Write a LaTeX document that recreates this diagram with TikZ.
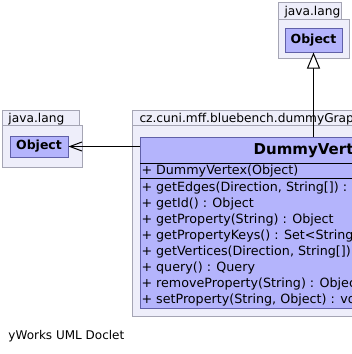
\documentclass[tikz,border=0pt]{standalone}
\usepackage{fontspec}
\setmainfont{DejaVu Sans}
\usetikzlibrary{arrows.meta}

\definecolor{pkgfill}{RGB}{238,238,250}
\definecolor{pkgline}{RGB}{165,165,180}
\definecolor{clsfill}{RGB}{180,180,252}
\definecolor{clsline}{RGB}{96,96,168}

\begin{document}
\begin{tikzpicture}[x=1pt, y=-1pt, line width=1pt,
    pkg/.style={draw=pkgline, fill=pkgfill},
    cls/.style={draw=clsline, fill=clsfill, inner sep=0pt},
    lbl/.style={anchor=west, inner sep=0pt, font=\fontsize{12.2}{15}\selectfont},
    member/.style={anchor=west, inner sep=0pt, font=\fontsize{12.7}{16}\selectfont}]

    \useasboundingbox (0,0) rectangle (352,354);
    \clip (0,0) rectangle (352,354);

    % 上方的 java.lang 包
    \filldraw[pkg] (278,2.5) rectangle (341,19.5); % 标签页
    \filldraw[pkg] (278,19.5) rectangle (349,58);  % 包体
    \node[lbl] (pkgtop) at (284,12) {java.lang};
    \node[cls, minimum width=57pt, minimum height=24pt,
          font=\bfseries\fontsize{12.5}{14}\selectfont] (objtop) at (313.5,40) {Object};

    % 左边的 java.lang 包
    \filldraw[pkg] (2,110) rectangle (79,125);
    \filldraw[pkg] (2,125) rectangle (82,167);
    \node[lbl] (pkgleft) at (8,119.5) {java.lang};
    \node[cls, minimum width=58pt, minimum height=21pt,
          font=\bfseries\fontsize{12.5}{14}\selectfont] (objleft) at (39,146.5) {Object};

    % dummyGraph 包
    \filldraw[pkg] (132,110) rectangle (360,125);
    \filldraw[pkg] (132,125) rectangle (360,316);
    \node[lbl] (pkgmain) at (139,119.5) {cz.cuni.mff.bluebench.dummyGraph};

    % DummyVertex 类
    \node[cls, minimum width=347pt, minimum height=171pt] (dv) at (313.5,222.5) {};
    \draw (140,163) -- +(347,0); % 类名下的分隔线
    \draw (140,178) -- +(347,0); % 构造函数下的分隔线
    \node[font=\bfseries\fontsize{15}{18}\selectfont, inner sep=0pt] (dvname) at (313.5,150.5) {DummyVertex};

    % 成员
    \node[member] (ctor) at (141,171) {+ DummyVertex(Object)};
    \node[member] (m1) at (141,188) {+ getEdges(Direction, String[]) :};
    \node[member] (m2) at (141,204) {+ getId() : Object};
    \node[member] (m3) at (141,220) {+ getProperty(String) : Object};
    \node[member] (m4) at (141,236) {+ getPropertyKeys() : Set<String>};
    \node[member] (m5) at (141,252) {+ getVertices(Direction, String[])};
    \node[member] (m6) at (141,268) {+ query() : Query};
    \node[member] (m7) at (141,284) {+ removeProperty(String) : Object};
    \node[member] (m8) at (141,300) {+ setProperty(String, Object) : void};

    % 继承与依赖
    \draw[-{Triangle[length=16pt, width=13pt, fill=white]}] (dv.north) -- (objtop.south);
    \draw[-{Straight Barb[length=12pt, width=9pt]}] (dv.west |- objleft.east) -- (objleft.east);

    % 底部说明
    \node[lbl, font=\fontsize{12}{14}\selectfont] (doclet) at (8,336) {yWorks UML Doclet};

\end{tikzpicture}
\end{document}
